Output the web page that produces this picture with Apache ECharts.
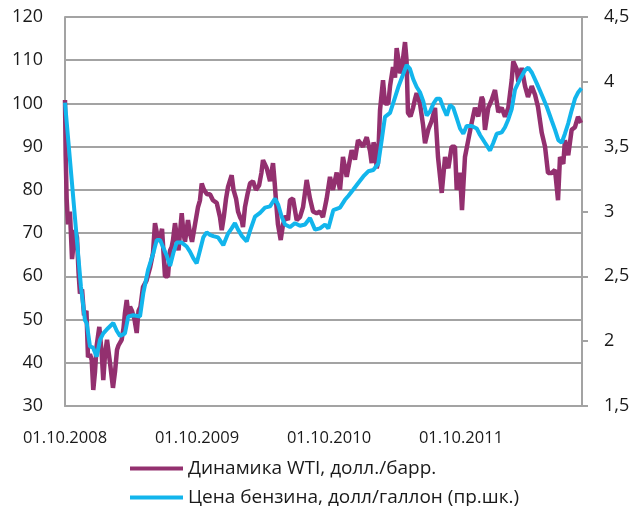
<!DOCTYPE html>
<html>
<head>
<meta charset="utf-8">
<script src="https://cdn.jsdelivr.net/npm/echarts@6/dist/echarts.min.js"></script>
<style>
  html, body { margin: 0; padding: 0; background: #fff; }
  #chart { width: 633px; height: 506px; }
</style>
</head>
<body>
<div id="chart"></div>
<script>
// time is in months since 01.10.2008
var wtiMonths = [0, 0.06, 0.15, 0.27, 0.45, 0.64, 0.91, 1.09, 1.23, 1.36, 1.55, 1.73, 1.82, 1.95, 2.09, 2.27, 2.43, 2.57, 2.73, 2.88,
  3.12, 3.34, 3.48, 3.64, 3.82, 4.09, 4.36, 4.55, 4.73, 4.86, 5.15, 5.32, 5.45, 5.61, 5.77, 5.91, 6.09, 6.32, 6.52, 6.68,
  6.86, 7.09, 7.41, 7.73, 8.00, 8.18, 8.36, 8.55, 8.82, 9.09, 9.36, 9.55, 9.70, 9.82, 10.00, 10.18, 10.32, 10.45, 10.61, 10.77,
  10.91, 11.18, 11.36, 11.55, 11.82, 12.09, 12.27, 12.43, 12.64, 12.91, 13.18, 13.45, 13.79, 14.09, 14.25, 14.45, 14.64, 14.82, 15.15, 15.32,
  15.55, 15.73, 15.91, 16.06, 16.18, 16.36, 16.59, 16.82, 17.09, 17.36, 17.64, 17.86, 18.00, 18.34, 18.64, 18.91, 19.05, 19.18, 19.36, 19.61,
  19.82, 20.05, 20.27, 20.45, 20.73, 21.06, 21.36, 21.64, 21.97, 22.27, 22.55, 22.88, 23.18, 23.45, 23.79, 24.09, 24.36, 24.70, 25.00, 25.27,
  25.61, 26.06, 26.36, 26.64, 27.09, 27.43, 27.73, 27.88, 28.05, 28.18, 28.34, 28.45, 28.64, 28.91, 29.09, 29.39, 29.55, 29.82, 30.00, 30.15,
  30.32, 30.45, 30.64, 30.91, 31.05, 31.18, 31.41, 31.64, 31.82, 31.97, 32.27, 32.55, 32.73, 33.03, 33.34, 33.64, 33.91, 34.25, 34.55, 34.85,
  35.15, 35.45, 35.61, 35.91, 36.09, 36.36, 36.66, 36.97, 37.27, 37.57, 37.88, 38.00, 38.18, 38.48, 38.79, 39.09, 39.39, 39.70, 40.00, 40.30,
  40.61, 40.75, 41.06, 41.21, 41.52, 41.82, 42.09, 42.43, 42.73, 43.00, 43.34, 43.64, 43.91, 44.25, 44.55, 44.82, 45.00, 45.30, 45.45, 45.75,
  46.06, 46.36, 46.64, 46.91];
var wtiPrice = [100.8, 88, 78, 72, 75, 64, 70.7, 69, 61, 56, 57, 51, 50.6, 52, 41.3, 42, 40.6, 33.7, 38, 44,
  48.3, 42, 36, 42, 45.3, 40, 34.2, 38, 43, 44, 45.3, 48, 51.5, 54.5, 51, 53, 52, 50, 46.9, 52,
  53, 57.5, 59, 62, 65.4, 72.3, 70, 68, 71, 60, 60, 66, 66.8, 68.4, 72.3, 69, 66, 70, 74.6, 70,
  68, 73, 70, 68, 72, 76, 77.6, 81.5, 80, 79, 79, 77.6, 77, 73.7, 70.7, 74, 78, 80.7, 83.4, 80,
  78, 75, 73.7, 73, 71.4, 76, 79, 81.5, 82, 80, 81, 84, 86.9, 85, 82, 86.2, 82, 77.6, 72, 68.4,
  72, 74, 73, 77.6, 78, 73, 73.7, 76, 82.3, 78, 75, 74.6, 75, 73.7, 78, 83, 80, 84, 80, 87.6,
  83, 89.2, 87, 91.5, 90, 92.2, 89, 86.2, 91, 90, 85, 86.2, 98.5, 105.4, 100, 100, 104, 108.4, 106, 112.8,
  110, 107, 108.5, 114.2, 110, 97.8, 97, 99, 101, 102.4, 100, 95, 90.8, 94, 96, 99, 87.6, 79.3, 87.6, 85,
  90, 90, 80, 84, 75.3, 87.6, 91.5, 95.5, 99, 97, 101.5, 100.8, 93.9, 99, 100.8, 103.1, 98, 99, 96.9, 99,
  105.4, 109.7, 108, 105, 108.2, 104, 101.5, 104, 102, 99.2, 93.2, 90, 83.9, 83.9, 84.6, 77.6, 87.6, 86, 91.5, 88,
  93.9, 94.5, 96.9, 95.5];

var gasMonths = [0, 1.45, 1.82, 1.97, 2.27, 2.55, 2.88, 3.18, 3.48, 3.91, 4.39, 4.70, 5.00, 5.45, 5.75, 6.21, 6.82, 7.12, 7.55, 8.03,
  8.34, 8.64, 8.94, 9.25, 9.55, 9.85, 10.15, 10.61, 11.06, 11.36, 11.66, 11.97, 12.27, 12.57, 12.88, 13.18, 13.48, 13.91, 14.39, 14.82,
  15.15, 15.45, 15.73, 16.09, 16.52, 16.82, 17.27, 17.73, 18.18, 18.64, 19.09, 19.39, 19.70, 20.00, 20.45, 20.91, 21.36, 21.82, 22.27, 22.73,
  23.18, 23.64, 23.94, 24.39, 25.00, 25.45, 25.75, 26.21, 26.66, 27.12, 27.57, 28.03, 28.48, 28.79, 29.09, 29.55, 29.85, 30.30, 30.75, 31.06,
  31.36, 31.66, 31.97, 32.27, 32.57, 32.88, 33.18, 33.48, 33.79, 34.09, 34.39, 34.70, 35.00, 35.30, 35.61, 35.91, 36.21, 36.52, 36.97, 37.43,
  37.73, 38.18, 38.64, 38.94, 39.25, 39.70, 40.00, 40.30, 40.61, 40.91, 41.36, 41.82, 42.12, 42.45, 42.88, 43.34, 43.79, 44.25, 44.55, 44.85,
  45.15, 45.45, 45.75, 46.06, 46.36, 46.66, 46.95];
var gasPrice = [3.84, 2.42, 2.16, 2.14, 1.96, 1.95, 1.88, 2.01, 2.06, 2.10, 2.14, 2.08, 2.04, 2.06, 2.19, 2.20, 2.19, 2.37, 2.55, 2.68,
  2.78, 2.78, 2.72, 2.66, 2.58, 2.68, 2.76, 2.76, 2.73, 2.69, 2.64, 2.60, 2.70, 2.80, 2.84, 2.82, 2.81, 2.80, 2.74, 2.83,
  2.87, 2.91, 2.86, 2.81, 2.77, 2.85, 2.96, 2.99, 3.03, 3.04, 3.10, 3.05, 2.96, 2.90, 2.88, 2.91, 2.89, 2.90, 2.95, 2.86,
  2.87, 2.90, 2.87, 3.01, 3.03, 3.09, 3.12, 3.17, 3.22, 3.27, 3.31, 3.32, 3.37, 3.55, 3.73, 3.76, 3.84, 3.96, 4.06, 4.13,
  4.10, 4.02, 3.96, 3.92, 3.85, 3.74, 3.77, 3.83, 3.87, 3.87, 3.80, 3.74, 3.82, 3.80, 3.72, 3.64, 3.60, 3.66, 3.66, 3.64,
  3.59, 3.53, 3.47, 3.53, 3.60, 3.61, 3.65, 3.71, 3.79, 3.94, 4.02, 4.09, 4.11, 4.07, 3.99, 3.90, 3.81, 3.70, 3.63, 3.55,
  3.53, 3.60, 3.68, 3.78, 3.87, 3.92, 3.95];

var startYear = 2008;
var seriesNames = ['Динамика WTI, долл./барр.', 'Цена бензина, долл/галлон (пр.шк.)'];

function zip(xs, ys) {
  return xs.map(function (x, i) { return [x, ys[i]]; });
}

var grey = '#a3a3a3';
var font = "'Open Sans', 'Noto Sans', sans-serif";

function legendRow(name, top) {
  return {
    left: 125,
    top: top,
    icon: 'rect',
    itemWidth: 53,
    itemHeight: 4,
    itemGap: 0,
    textStyle: { fontFamily: font, fontSize: 19, color: '#1a1a1a' },
    data: [name]
  };
}

var chart = echarts.init(document.getElementById('chart'));
chart.setOption({
  animation: false,
  backgroundColor: '#fff',
  grid: { left: 65, top: 17, width: 517, height: 389 },
  legend: [legendRow(seriesNames[0], 454), legendRow(seriesNames[1], 483)],
  xAxis: {
    type: 'value',
    min: 0,
    max: 47,
    interval: 12,
    axisLine: { show: true, lineStyle: { color: grey, width: 2 } },
    axisTick: { show: false },
    splitLine: { show: false },
    axisLabel: {
      margin: 24,
      fontFamily: font,
      fontSize: 16.5,
      color: '#1a1a1a',
      showMaxLabel: false,
      formatter: function (v) {
        return v % 12 === 0 ? '01.10.' + (startYear + v / 12) : '';
      }
    }
  },
  yAxis: [{
    type: 'value',
    min: 30,
    max: 120,
    interval: 10,
    axisLine: { show: true, lineStyle: { color: grey, width: 2 } },
    axisTick: { show: false },
    splitLine: { lineStyle: { color: grey, width: 2 } },
    axisLabel: { margin: 22, fontFamily: font, fontSize: 18, color: '#1a1a1a' }
  }, {
    type: 'value',
    min: 1.5,
    max: 4.5,
    interval: 0.5,
    position: 'right',
    axisLine: { show: true, lineStyle: { color: grey, width: 2 } },
    axisTick: { show: true, length: 6, lineStyle: { color: grey, width: 2 } },
    splitLine: { show: false },
    axisLabel: {
      margin: 22,
      fontFamily: font,
      fontSize: 18,
      color: '#1a1a1a',
      formatter: function (v) { return String(v).replace('.', ','); }
    }
  }],
  series: [{
    name: seriesNames[0],
    type: 'line',
    yAxisIndex: 0,
    showSymbol: false,
    symbol: 'none',
    color: '#93306f',
    lineStyle: { width: 4.5, color: '#93306f' },
    data: zip(wtiMonths, wtiPrice)
  }, {
    name: seriesNames[1],
    type: 'line',
    yAxisIndex: 1,
    showSymbol: false,
    symbol: 'none',
    color: '#12b5ec',
    lineStyle: { width: 4, color: '#12b5ec' },
    data: zip(gasMonths, gasPrice)
  }]
});
</script>
</body>
</html>
